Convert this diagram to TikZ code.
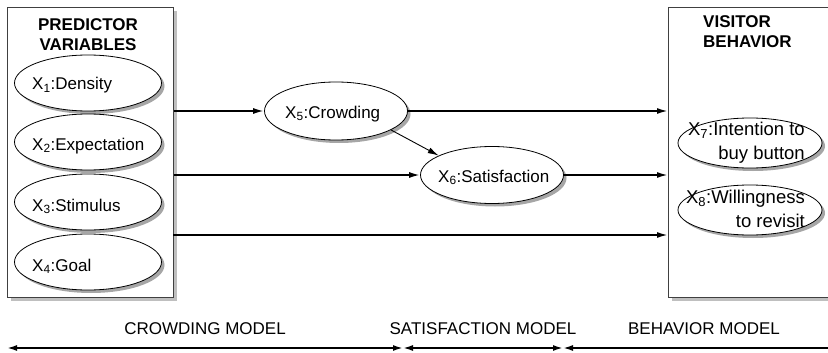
\documentclass[tikz,border=0pt]{standalone}
\usepackage{fontspec}
\setmainfont{Liberation Sans}
\usetikzlibrary{arrows.meta,shapes.geometric,shadows}

\begin{document}
\begin{tikzpicture}[x=1pt,y=-1pt,
  grp/.style={draw=black!75,fill=white,line width=0.9pt,
    general shadow={fill=black!25,shadow xshift=4pt,shadow yshift=-4pt}},
  var/.style={draw,ellipse,fill=white,line width=0.8pt,inner sep=0pt,
    general shadow={fill=black!35,shadow xshift=3pt,shadow yshift=-3pt}},
  txt/.style={inner sep=0pt,font=\fontsize{17}{24}\selectfont},
  head/.style={inner sep=0pt,font=\fontsize{17}{20}\selectfont\bfseries},
  flow/.style={line width=1.8pt,-{Latex[length=11pt,width=6pt]}},
  span/.style={line width=1.8pt,{Latex[length=10pt,width=6pt]}-{Latex[length=10pt,width=6pt]}}]

\clip (0,0) rectangle (828,353);

% the two groups
\node[grp,minimum width=166pt,minimum height=290pt,anchor=north west] (pred) at (7,7) {};
\node[grp,minimum width=200pt,minimum height=290pt,anchor=north west] (vis) at (668,7) {};
\node[head,align=center,anchor=north] (predt) at (88,18) {PREDICTOR\\VARIABLES};
\node[head,align=left,anchor=north west] (vist) at (703,15) {VISITOR\\BEHAVIOR};

% predictors
\node[var,minimum width=147pt,minimum height=56pt] (x1) at (88,83) {};
\node[var,minimum width=147pt,minimum height=56pt] (x2) at (88,142) {};
\node[var,minimum width=147pt,minimum height=56pt] (x3) at (88,202) {};
\node[var,minimum width=147pt,minimum height=56pt] (x4) at (88,262) {};
\node[txt,anchor=base west] (x1t) at (32,90) {X\textsubscript{1}:Density};
\node[txt,anchor=base west] (x2t) at (32,150) {X\textsubscript{2}:Expectation};
\node[txt,anchor=base west] (x3t) at (32,211) {X\textsubscript{3}:Stimulus};
\node[txt,anchor=base west] (x4t) at (32,271) {X\textsubscript{4}:Goal};

% mediators
\node[var,minimum width=143pt,minimum height=58pt] (x5) at (336,111) {};
\node[var,minimum width=143pt,minimum height=57pt] (x6) at (492,175) {};
\node[txt,anchor=base west] (x5t) at (285,118) {X\textsubscript{5}:Crowding};
\node[txt,anchor=base west] (x6t) at (438,182) {X\textsubscript{6}:Satisfaction};

% behavior
\node[var,minimum width=144pt,minimum height=50pt] (x7) at (750,143) {};
\node[var,minimum width=144pt,minimum height=50pt] (x8) at (750,210) {};
\node[txt,font=\fontsize{18.5}{24}\selectfont,align=right,anchor=north east] (x7t) at (805,122) {X\textsubscript{7}:Intention to\\buy button};
\node[txt,font=\fontsize{18.5}{24}\selectfont,align=right,anchor=north east] (x8t) at (805,190) {X\textsubscript{8}:Willingness\\to revisit};

% paths
\coordinate (c4) at (173,235);
\draw[flow] (pred.east |- x5) -- (x5);
\draw[flow] (pred.east |- x6) -- (x6);
\draw[flow] (c4) -- (c4 -| vis.west);
\draw[flow] (x5) -- (x5 -| vis.west);
\draw[flow] (x6) -- (x6 -| vis.west);
\draw[flow,line width=0.9pt] (x5.-19) -- (x6.160);

% models
\node[txt] (crowd) at (205,329) {CROWDING MODEL};
\node[txt] (satis) at (483,329) {SATISFACTION MODEL};
\node[txt] (behav) at (704,329) {BEHAVIOR MODEL};
\coordinate (b0) at (7,348);
\coordinate (b1) at (403,348);
\coordinate (b2) at (563,348);
\coordinate (b3) at (838,348);
\draw[span] (b0) -- (b1);
\draw[span] (b1) -- (b2);
\draw[span] (b2) -- (b3);

\end{tikzpicture}
\end{document}
